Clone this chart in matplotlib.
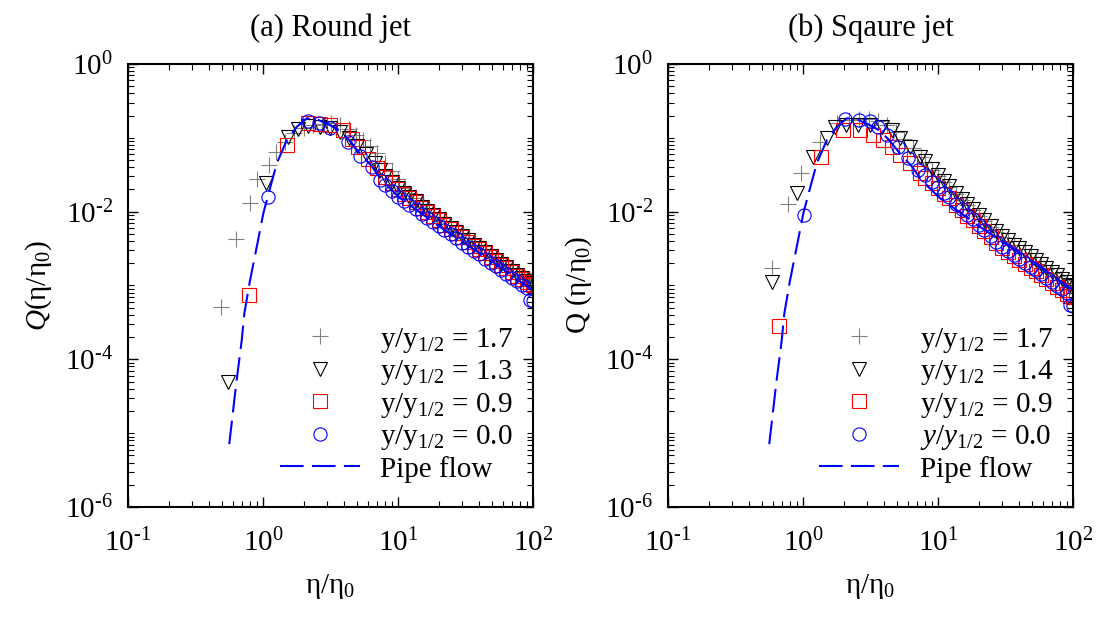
import matplotlib
matplotlib.use("Agg")
import matplotlib.pyplot as plt
from matplotlib.ticker import FixedLocator, LogLocator, NullFormatter

plt.rcParams["font.family"] = ["Liberation Serif", "DejaVu Serif"]
plt.rcParams["mathtext.fontset"] = "custom"
plt.rcParams["mathtext.rm"] = "Liberation Serif"
plt.rcParams["mathtext.it"] = "Liberation Serif:italic"
plt.rcParams["mathtext.bf"] = "Liberation Serif:bold"
plt.rcParams["lines.scale_dashes"] = False

# ---------------- data ----------------
# common eta positions of the dense tail (eta > 8)
eta_tail = [8, 9, 10, 11, 12, 13.5, 15, 16.5, 18, 20, 22, 24.5, 27, 30, 33,
            36.5, 40, 44, 48.5, 53, 58, 63.5, 69.5, 76, 83, 90, 95, 100]

# (a) round jet
eta_a17 = [0.49, 0.63, 0.80, 0.90, 1.1, 1.25, 1.45, 1.7, 2.0, 2.35, 2.75, 3.2,
           3.7, 4.3, 4.9, 5.5, 6.2, 7.0] + eta_tail
q_a17 = [5.1e-4, 4.3e-3, 1.31e-2, 2.77e-2, 4.3e-2, 6.45e-2, 8.8e-2, 0.115,
         0.135, 0.148, 0.155, 0.157, 0.150, 0.13, 0.11, 0.092, 0.078, 0.062,
         0.046, 0.036, 0.028, 0.021, 0.0178, 0.0151, 0.0126, 0.011, 0.00966,
         0.00851, 0.0075, 0.00653, 0.00575, 0.00501, 0.00442, 0.00389, 0.00347,
         0.00305, 0.00269, 0.0024, 0.00214, 0.00191, 0.0017, 0.00151, 0.00136,
         0.00124, 0.00117, 0.00112]

eta_a13 = [0.547, 1.06, 1.54, 1.8, 2.17, 2.64, 3.13, 3.72, 4.3, 5.0, 5.8, 6.7,
           7.4] + eta_tail
q_a13 = [5.0e-5, 2.42e-2, 0.103, 0.13, 0.145, 0.14, 0.135, 0.12, 0.10, 0.078,
         0.06, 0.046, 0.037,
         0.0305, 0.0254, 0.0211, 0.018, 0.016, 0.014, 0.0116, 0.0101, 0.0089,
         0.00786, 0.00691, 0.00602, 0.00531, 0.00463, 0.00408, 0.00359, 0.0032,
         0.00282, 0.00248, 0.00221, 0.00198, 0.00176, 0.00156, 0.0014, 0.00126,
         0.00115, 0.00109, 0.00104]

eta_a09 = [0.79, 1.5, 2.17, 2.64, 3.13, 3.89, 4.54, 5.08, 6.03, 6.95] + eta_tail
q_a09 = [7.4e-4, 0.080, 0.157, 0.152, 0.149, 0.128, 0.095, 0.076, 0.052, 0.0386,
         0.0295, 0.0245, 0.0204, 0.0174, 0.0155, 0.0135, 0.0112, 0.00977,
         0.00861, 0.00759, 0.00668, 0.00582, 0.00513, 0.00447, 0.00394, 0.00347,
         0.00309, 0.00272, 0.0024, 0.00214, 0.00191, 0.0017, 0.00151, 0.00135,
         0.00122, 0.00111, 0.00105, 0.001]

eta_a00 = [1.08, 2.15, 2.6, 3.13, 4.27, 5.23, 6.38, 7.36] + eta_tail
q_a00 = [0.0156, 0.17, 0.158, 0.137, 0.0885, 0.0567, 0.0398, 0.0268,
         0.0228, 0.019, 0.016, 0.01396, 0.01245, 0.01072, 0.00933, 0.00822,
         0.00733, 0.00646, 0.00569, 0.00495, 0.00437, 0.0038, 0.00335, 0.00295,
         0.00263, 0.00232, 0.00204, 0.00182, 0.00162, 0.00143, 0.00127, 0.00114,
         0.00101, 0.000912, 0.000631, 0.000617]

# (b) square jet
eta_b17 = [0.586, 0.778, 0.962, 1.34, 1.78, 2.2, 2.6, 3.1, 3.6, 4.2, 4.9, 5.6,
           6.5, 7.5] + eta_tail
q_b17 = [1.7e-3, 1.27e-2, 3.37e-2, 8.85e-2, 0.157, 0.175, 0.18, 0.178, 0.17,
         0.15, 0.12, 0.095, 0.072, 0.055,
         0.047, 0.037, 0.030, 0.025, 0.0213, 0.0172, 0.0144, 0.0122, 0.0105,
         0.0088, 0.0075, 0.00624, 0.00529, 0.00449, 0.00396, 0.00348, 0.00308,
         0.00273, 0.0024, 0.00213, 0.0019, 0.00168, 0.00149, 0.00133, 0.00118,
         0.00107, 0.00099, 0.00095]

eta_b14 = [0.586, 0.898, 1.19, 1.50, 1.73, 2.07, 2.57, 3.13, 3.83, 4.54, 5.23,
           6.2, 7.36] + eta_tail
q_b14 = [1.12e-3, 1.77e-2, 5.55e-2, 9.8e-2, 0.142, 0.149, 0.149, 0.149, 0.142,
         0.128, 0.098, 0.076, 0.0555,
         0.048, 0.038, 0.031, 0.026, 0.022, 0.0177, 0.0148, 0.0126, 0.01084,
         0.00906, 0.00773, 0.00643, 0.00545, 0.00463, 0.00408, 0.00359, 0.00318,
         0.00281, 0.00247, 0.0022, 0.00196, 0.00173, 0.00154, 0.00137, 0.00122,
         0.0011, 0.00102, 0.00098]

eta_b09 = [0.667, 1.37, 1.99, 2.64, 3.32, 3.94, 4.54, 5.23, 6.2, 7.36] + eta_tail
q_b09 = [2.8e-4, 5.55e-2, 0.128, 0.128, 0.109, 0.094, 0.076, 0.058, 0.045, 0.033,
         0.029, 0.0245, 0.0206, 0.0176, 0.0152, 0.0124, 0.0104, 0.00885,
         0.00761, 0.00636, 0.00543, 0.00452, 0.00382, 0.00326, 0.00287, 0.00252,
         0.00224, 0.00198, 0.00174, 0.00155, 0.00138, 0.00122, 0.00109, 0.00096,
         0.00086, 0.00077, 0.00073, 0.0007]

eta_b00 = [1.02, 2.05, 2.6, 3.13, 3.6, 4.17, 5.08, 6.03, 7.14] + eta_tail
q_b00 = [9.0e-3, 0.178, 0.176, 0.17, 0.14, 0.109, 0.076, 0.053, 0.0366,
         0.031, 0.0255, 0.0213, 0.01815, 0.01567, 0.01282, 0.01072, 0.00912,
         0.00785, 0.00656, 0.0056, 0.00466, 0.00394, 0.00336, 0.00296, 0.0026,
         0.00231, 0.00204, 0.00179, 0.0016, 0.00142, 0.00126, 0.00112, 0.000993,
         0.000883, 0.000794, 0.000537, 0.000525]

# pipe flow (same curve in both panels)
eta_pipe = [0.562, 0.631, 0.695, 0.727, 0.801, 0.9, 1.005, 1.13, 1.263, 1.5,
            1.78, 2.11, 2.5, 3.1, 3.7, 4.3, 5.2, 6.4, 7.4, 10, 20, 50, 100]
q_pipe = [7.1e-6, 4.5e-5, 1.8e-4, 4.2e-4, 1.17e-3, 3.4e-3, 9.5e-3, 2.12e-2,
          4.5e-2, 9.3e-2, 0.141, 0.184, 0.178, 0.15, 0.125, 0.095, 0.062, 0.041,
          0.028, 0.016, 6.4e-3, 2.1e-3, 8.5e-4]

labels_a = [r"$\mathrm{y/y_{1/2}}$ = 1.7", r"$\mathrm{y/y_{1/2}}$ = 1.3",
            r"$\mathrm{y/y_{1/2}}$ = 0.9", r"$\mathrm{y/y_{1/2}}$ = 0.0"]
labels_b = [r"$\mathrm{y/y_{1/2}}$ = 1.7", r"$\mathrm{y/y_{1/2}}$ = 1.4",
            r"$\mathrm{y/y_{1/2}}$ = 0.9", r"$y/y_{\mathrm{1/2}}$ = 0.0"]

x_ticks = [0.1, 1, 10, 100]
x_tick_labels = [r"$10^{\text{-}1}$", r"$10^{0}$", r"$10^{1}$", r"$10^{2}$"]
y_ticks = [1e-6, 1e-4, 1e-2, 1]
y_tick_labels = [r"$10^{\text{-}6}$", r"$10^{\text{-}4}$", r"$10^{\text{-}2}$",
                 r"$10^{0}$"]

styles = [
    dict(marker="+", ms=11, mew=0.8, color="#808080"),
    dict(marker="v", ms=10, mew=0.8, mfc="none", mec="black", color="black"),
    dict(marker="s", ms=9.5, mew=0.8, mfc="none", mec="red", color="red"),
    dict(marker="o", ms=9.5, mew=0.8, mfc="none", mec="blue", color="blue"),
]

FS = 21

fig = plt.figure(figsize=(11, 6.17), dpi=100)
ax1 = fig.add_axes([0.1164, 0.1783, 0.3682, 0.7180])
ax2 = fig.add_axes([0.6073, 0.1783, 0.3682, 0.7180])

panels = [
    (ax1, [(eta_a17, q_a17), (eta_a13, q_a13), (eta_a09, q_a09), (eta_a00, q_a00)],
     labels_a, "(a) Round jet", r"$Q(\mathrm{\eta/\eta_0})$"),
    (ax2, [(eta_b17, q_b17), (eta_b14, q_b14), (eta_b09, q_b09), (eta_b00, q_b00)],
     labels_b, "(b) Sqaure jet", r"$\mathrm{Q\ (\eta/\eta_0)}$"),
]

for ax, series, labels, title, ylab in panels:
    for (eta, q), lab, sty in zip(series, labels, styles):
        ax.plot(eta, q, linestyle="none", label=lab, **sty)
    ax.plot(eta_pipe, q_pipe, color="blue", lw=1.5, dashes=(17, 6),
            label="Pipe flow")

    ax.set_xscale("log")
    ax.set_yscale("log")
    ax.set_xlim(0.1, 100)
    ax.set_ylim(1e-6, 1)

    ax.xaxis.set_major_locator(FixedLocator(x_ticks))
    ax.set_xticklabels(x_tick_labels)
    ax.yaxis.set_major_locator(FixedLocator(y_ticks))
    ax.set_yticklabels(y_tick_labels)
    ax.xaxis.set_minor_locator(LogLocator(base=10, subs=range(2, 10), numticks=20))
    ax.yaxis.set_minor_locator(LogLocator(base=10, subs=range(1, 10), numticks=20))
    ax.xaxis.set_minor_formatter(NullFormatter())
    ax.yaxis.set_minor_formatter(NullFormatter())

    ax.tick_params(which="both", direction="in", top=True, right=True,
                   labelsize=FS)
    ax.tick_params(which="major", length=7, width=1)
    ax.tick_params(which="minor", length=4, width=0.8)
    ax.tick_params(axis="x", pad=16)
    ax.tick_params(axis="y", pad=11)
    for sp in ax.spines.values():
        sp.set_linewidth(1.5)

    ax.set_title(title, fontsize=22, pad=20)
    ax.set_xlabel(r"$\mathrm{\eta/\eta_0}$", fontsize=FS, labelpad=10)
    ax.set_ylabel(ylab, fontsize=FS, labelpad=8)

    ax.legend(loc="lower right", bbox_to_anchor=(0.95, 0.055), frameon=False,
              fontsize=FS, handlelength=2.75, handletextpad=0.7,
              labelspacing=0.12, borderaxespad=0, borderpad=0)

fig.savefig("out.png", dpi=100)
